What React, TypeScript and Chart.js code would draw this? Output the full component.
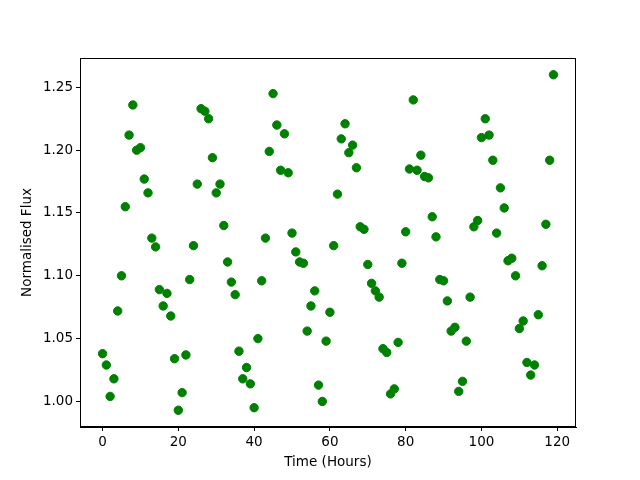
import React, { useEffect, useRef } from "react";
import { Chart, registerables } from "chart.js";

Chart.register(...registerables);

const fluxValues: number[] = [
  1.038, 1.029, 1.004, 1.018, 1.072, 1.100, 1.155, 1.212, 1.236, 1.200,
  1.202, 1.177, 1.166, 1.130, 1.123, 1.089, 1.076, 1.086, 1.068, 1.034,
  0.993, 1.007, 1.037, 1.097, 1.124, 1.173, 1.233, 1.231, 1.225, 1.194,
  1.166, 1.173, 1.140, 1.111, 1.095, 1.085, 1.040, 1.018, 1.027, 1.014,
  0.995, 1.050, 1.096, 1.130, 1.199, 1.245, 1.220, 1.184, 1.213, 1.182,
  1.134, 1.119, 1.111, 1.110, 1.056, 1.076, 1.088, 1.013, 1.000, 1.048,
  1.071, 1.124, 1.165, 1.209, 1.221, 1.198, 1.204, 1.186, 1.139, 1.137,
  1.109, 1.094, 1.088, 1.083, 1.042, 1.039, 1.006, 1.010, 1.047, 1.110,
  1.135, 1.185, 1.240, 1.184, 1.196, 1.179, 1.178, 1.147, 1.131, 1.097,
  1.096, 1.080, 1.056, 1.059, 1.008, 1.016, 1.048, 1.083, 1.139, 1.144,
  1.210, 1.225, 1.212, 1.192, 1.134, 1.170, 1.154, 1.112, 1.114, 1.100,
  1.058, 1.064, 1.031, 1.021, 1.029, 1.069, 1.108, 1.141, 1.192, 1.260,
];
const timeHours: number[] = fluxValues.map((_, i) => i);
const xTicks: number[] = [0, 20, 40, 60, 80, 100, 120];
const yTicks: number[] = [1.0, 1.05, 1.1, 1.15, 1.2, 1.25];

const FONT = "'DejaVu Sans', sans-serif";

const framePlugin = {
  id: "frame",
  afterDraw(chart: any) {
    const { ctx, chartArea } = chart;
    ctx.save();
    ctx.strokeStyle = "#000";
    ctx.lineWidth = 1;
    ctx.strokeRect(
      Math.round(chartArea.left) + 0.5,
      Math.round(chartArea.top) + 0.5,
      Math.round(chartArea.right - chartArea.left) - 1,
      Math.round(chartArea.bottom - chartArea.top) - 1
    );
    ctx.restore();
  },
};

export default function App() {
  const ref = useRef<HTMLCanvasElement | null>(null);
  useEffect(() => {
    document.body.style.margin = "0";
    if (!ref.current) return;
    const yMinD = Math.min(...fluxValues);
    const yMaxD = Math.max(...fluxValues);
    const yPad = (yMaxD - yMinD) * 0.05;
    const xPad = (timeHours[timeHours.length - 1] - timeHours[0]) * 0.05;
    const chart = new Chart(ref.current, {
      type: "scatter",
      data: {
        datasets: [
          {
            data: timeHours.map((t, i) => ({ x: t, y: fluxValues[i] })),
            backgroundColor: "#008000",
            borderColor: "#008000",
            pointRadius: 4.2,
            borderWidth: 1,
          },
        ],
      },
      options: {
        responsive: false,
        animation: false,
        devicePixelRatio: 1,
        layout: { padding: { left: 0, right: 64, top: 58, bottom: 0 } },
        plugins: { legend: { display: false }, tooltip: { enabled: false } },
        scales: {
          x: {
            type: "linear",
            min: timeHours[0] - xPad,
            max: timeHours[timeHours.length - 1] + xPad,
            afterBuildTicks: (s: any) => {
              s.ticks = xTicks.map((v) => ({ value: v }));
            },
            afterFit: (s: any) => {
              s.height = 53;
            },
            grid: {
              drawOnChartArea: false,
              drawTicks: true,
              tickLength: 4,
              tickColor: "#000",
            },
            border: { display: true, color: "#000", width: 1 },
            ticks: {
              color: "#000",
              font: { family: FONT, size: 13.5 },
              padding: 3,
              maxRotation: 0,
              callback: (v: any) => String(v),
            },
            title: {
              display: true,
              text: "Time (Hours)",
              color: "#000",
              font: { family: FONT, size: 13.5 },
              padding: { top: 0, bottom: 9 },
            },
          },
          y: {
            type: "linear",
            min: yMinD - yPad,
            max: yMaxD + yPad,
            afterBuildTicks: (s: any) => {
              s.ticks = yTicks.map((v) => ({ value: v }));
            },
            afterFit: (s: any) => {
              s.width = 80;
            },
            grid: {
              drawOnChartArea: false,
              drawTicks: true,
              tickLength: 4,
              tickColor: "#000",
            },
            border: { display: true, color: "#000", width: 1 },
            ticks: {
              color: "#000",
              font: { family: FONT, size: 13.5 },
              padding: 3,
              callback: (v: any) => Number(v).toFixed(2),
            },
            title: {
              display: true,
              text: "Normalised Flux",
              color: "#000",
              font: { family: FONT, size: 13.5 },
              padding: { top: 19, bottom: 0 },
            },
          },
        },
      },
      plugins: [framePlugin],
    });
    return () => chart.destroy();
  }, []);
  return (
    <div style={{ position: "absolute", left: 0, top: 0, width: 640, height: 480, background: "#fff" }}>
      <canvas ref={ref} width={640} height={480} />
    </div>
  );
}
